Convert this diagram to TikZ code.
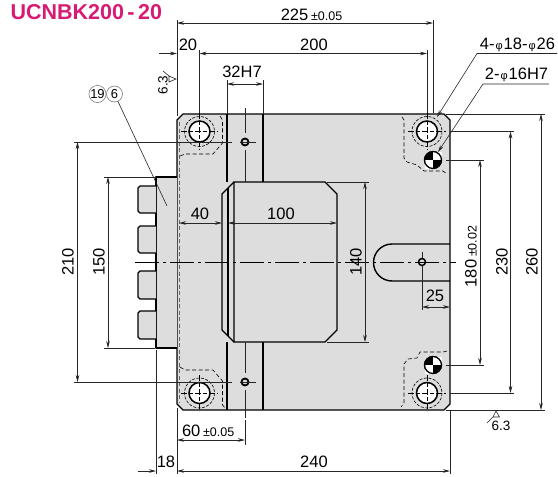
\documentclass[tikz,border=0pt]{standalone}
\usepackage{fontspec}
\setmainfont{Liberation Sans}
\usetikzlibrary{arrows.meta}
\definecolor{platefill}{HTML}{DDDDDD}
\definecolor{titlepink}{HTML}{D81B72}
\newcommand{\tolsize}{\fontsize{12.5}{12.5}\selectfont}
\newcommand{\phisize}{\fontsize{11}{11}\selectfont}
\tikzset{
  every node/.style={inner sep=0pt, outer sep=0pt, font=\fontsize{16.5}{16.5}\selectfont},
  outline/.style={line width=1.4pt, draw=black, fill=platefill, line join=round},
  edge/.style={line width=1.4pt},
  thin line/.style={line width=.6pt, draw=black!85},
  dim/.style={thin line, {Stealth[length=7pt,width=3.5pt]}-{Stealth[length=7pt,width=3.5pt]}},
  dimright/.style={thin line, -{Stealth[length=7pt,width=3.5pt]}},
  hidden/.style={line width=.6pt, dash pattern=on 4pt off 2.5pt},
  center line/.style={line width=.6pt, dash pattern=on 24pt off 4pt on 3pt off 4pt},
  cross/.style={line width=.6pt, dash pattern=on 6pt off 2pt on 4pt off 2pt},
  rough/.style={font=\fontsize{13.5}{13.5}\selectfont},
  partno/.style={circle, draw=black!60, line width=.5pt, minimum size=16pt, font=\fontsize{13}{13}\selectfont}
}
\begin{document}
\begin{tikzpicture}[x=1pt, y=-1pt]
\useasboundingbox (0,0) rectangle (558,477);
% Title
\node[anchor=west, text=titlepink, font=\fontsize{21.5}{21.5}\selectfont\bfseries] (title) at (10.5,12.5) {UCNBK200\hspace{3.5pt}-\hspace{3.5pt}20};

% Plate
\draw[outline] (183,114) -- (444,114) -- (450,120) -- (450,404) -- (444,410) -- (183,410) -- (177,404) -- (177,120) -- cycle;
% Side box and connectors
\draw[outline] (177,177) -- (156,177) -- (156,348) -- (177,348);
\draw[outline] (156,186) -- (140,186) -- (138,188) -- (138,211) -- (140,213) -- (156,213);
\draw[outline] (156,226) -- (140,226) -- (138,228) -- (138,251) -- (140,253) -- (156,253);
\draw[outline] (156,271) -- (140,271) -- (138,273) -- (138,297) -- (140,299) -- (156,299);
\draw[outline] (156,311) -- (140,311) -- (138,313) -- (138,337) -- (140,339) -- (156,339);

% Channel
\draw[edge] (227,114) -- (227,182);
\draw[edge] (263,114) -- (263,182);
\draw[edge] (227,342) -- (227,410);
\draw[edge] (263,342) -- (263,410);
% Inner block
\draw[edge] (234,182) -- (325,182) -- (337,194) -- (337,330) -- (325,342) -- (234,342) -- cycle;
\draw[edge] (234,182) -- (222,194) -- (222,330) -- (234,342);
\draw[edge] (228,188) -- (228,336);
% Slot
\draw[edge] (450,244) -- (392,244) arc[start angle=270, end angle=90, radius=18.5] -- (450,281);

% Hidden lines
\draw[hidden, draw=black!60] (179.5,122) -- (179.5,402);
\draw[hidden] (180,156) -- (185,154) -- (213,154) -- (222.5,143) -- (222.5,120) -- (220,116);
\draw[hidden] (180,367) -- (185,370) -- (213,370) -- (222.5,381) -- (222.5,405) -- (225,408);
\draw[hidden] (402,117) -- (404,120) -- (404,158) -- (407,162) -- (417,165) -- (424,171) -- (443,171) -- (447,174);
\draw[hidden] (447,351) -- (443,352) -- (420,352) -- (417,358) -- (408,359) -- (404,364) -- (404,403) -- (401,407);

% Top left hole
\draw[hidden, dash pattern=on 3pt off 1.5pt] (199.5,131.5) circle[radius=15];
\draw[line width=1.5pt, fill=white] (199.5,131.5) circle[radius=10.5];
\draw[cross] (181,131.5) -- (218,131.5);
\draw[cross] (199.5,113) -- (199.5,150);
% Top right hole
\draw[hidden, dash pattern=on 3pt off 1.5pt] (427,131.5) circle[radius=15];
\draw[line width=1.5pt, fill=white] (427,131.5) circle[radius=10.5];
\draw[cross] (408,131.5) -- (446,131.5);
\draw[cross] (427,113) -- (427,150);
% Bottom left hole
\draw[hidden, dash pattern=on 3pt off 1.5pt] (199.5,393) circle[radius=15];
\draw[line width=1.5pt, fill=white] (199.5,393) circle[radius=10.5];
\draw[cross] (181,393) -- (218,393);
\draw[cross] (199.5,375) -- (199.5,411);
% Bottom right hole
\draw[hidden, dash pattern=on 3pt off 1.5pt] (427,393) circle[radius=15];
\draw[line width=1.5pt, fill=white] (427,393) circle[radius=10.5];
\draw[cross] (408,393) -- (446,393);
\draw[cross] (427,375) -- (427,411);

% Small holes
\draw[line width=1.8pt, fill=platefill] (245,142) circle[radius=3.5];
\draw[line width=1.8pt, fill=platefill] (245,382) circle[radius=3.5];
\draw[line width=1.5pt, fill=platefill] (422,262) circle[radius=3.5];
% Dowel holes
\fill[black] (433,160) circle[radius=9];
\fill[white] (433,160) -- (441.5,160) -- (441.5,151.5) -- (433,151.5) -- cycle;
\fill[white] (433,160) -- (424.5,160) -- (424.5,168.5) -- (433,168.5) -- cycle;
\draw[line width=1.3pt] (433,160) circle[radius=8.5];
\fill[black] (433,365) circle[radius=9];
\fill[white] (433,365) -- (441.5,365) -- (441.5,356.5) -- (433,356.5) -- cycle;
\fill[white] (433,365) -- (424.5,365) -- (424.5,373.5) -- (433,373.5) -- cycle;
\draw[line width=1.3pt] (433,365) circle[radius=8.5];

% Center lines
\draw[center line] (135,262) -- (456,262);
\draw[thin line] (240,142) -- (256,142);
\draw[thin line] (240,382) -- (256,382);
\draw[thin line] (245,108) -- (245,133);
\draw[thin line] (245,150) -- (245,182);
\draw[thin line] (245,342) -- (245,373);
\draw[thin line, dash pattern=on 28pt off 2pt on 26pt] (245,390) -- (245,445);
\draw[thin line] (422,252) -- (422,258);
\draw[thin line] (422,266) -- (422,310);

% Extension lines
\draw[thin line] (177,20) -- (177,116);
\draw[thin line] (433,20) -- (433,113);
\draw[thin line] (199.5,50) -- (199.5,113);
\draw[thin line] (427,50) -- (427,113);
\draw[thin line] (227,80) -- (227,114);
\draw[thin line] (263,80) -- (263,114);
\draw[thin line] (74,142) -- (232,142);
\draw[thin line] (74,382) -- (232,382);
\draw[thin line] (104,177) -- (156,177);
\draw[thin line] (104,348) -- (155,348);
\draw[thin line] (156,350) -- (156,474);
\draw[thin line] (177,408) -- (177,474);
\draw[thin line] (450,410) -- (450,474);
\draw[thin line] (327,182) -- (369,182);
\draw[thin line] (327,342) -- (369,342);
\draw[thin line] (446,160) -- (484,160);
\draw[thin line] (446,365) -- (484,365);
\draw[thin line] (450,131.5) -- (514,131.5);
\draw[thin line] (450,393) -- (514,393);
\draw[thin line] (446,114) -- (545,114);
\draw[thin line] (446,410) -- (545,410);

% Top dimensions
\draw[dim] (177,23) -- (433,23);
\draw[dimright] (159,53.5) -- (177,53.5);
\draw[dim] (199.5,53.5) -- (427,53.5);
\draw[dim] (227,84) -- (263,84);
\node (dimtotal) at (311.5,14.5) {225\,{\tolsize ±0.05}};
\node (dimtwenty) at (188,45) {20};
\node (dimpitch) at (314,45) {200};
\node (dimbore) at (242,72) {32H7};

% Left dimensions
\draw[dim] (77.5,142) -- (77.5,382);
\draw[dim] (108,177) -- (108,348);
\node[rotate=90] (dimoutx) at (68,262) {210};
\node[rotate=90] (dimbox) at (99,262) {150};

% Inner dimensions
\draw[dim] (179,223) -- (222,223);
\draw[dim] (228,223) -- (337,223);
\node (dimforty) at (200,214) {40};
\node (dimblock) at (281,214) {100};
\draw[dim] (365,182) -- (365,342);
\node[rotate=90] (dimheight) at (356,262) {140};
\draw[dim] (422,307) -- (450,307);
\node (dimslot) at (435,295.5) {25};

% Right dimensions
\draw[dim] (480,160) -- (480,365);
\draw[dim] (510.5,131.5) -- (510.5,393);
\draw[dim] (541,114) -- (541,410);
\node[rotate=90] (dimdowel) at (471,256.5) {180\,{\tolsize ±0.02}};
\node[rotate=90] (dimholes) at (502,262) {230};
\node[rotate=90] (dimplate) at (532,262) {260};

% Bottom dimensions
\draw[dim] (177,440) -- (245,440);
\node[anchor=west] (dimsixty) at (182,430.5) {60\,{\tolsize ±0.05}};
\draw[dimright] (138,471) -- (156,471);
\draw[dim] (177,471) -- (450,471);
\node (dimeighteen) at (166,462) {18};
\node (dimwidth) at (314,462) {240};

% Leaders
\node (holelabel) at (517.5,45) {4-\hspace{1pt}{\phisize φ}\hspace{1pt}18-\hspace{1pt}{\phisize φ}\hspace{1pt}26};
\draw[dimright] (557,53.5) -- (477,53.5) -- (437,117);
\node (dowellabel) at (516.5,75) {2-\hspace{1pt}{\phisize φ}\hspace{1pt}16H7};
\draw[dimright] (549,84) -- (483,84) -- (438,152);
\node[partno] (partA) at (97.5,94) {19};
\node[partno] (partB) at (114.5,94) {6};
\draw[thin line] (partB) -- (167,206);

% Surface marks
\draw[thin line] (163,71) -- (169,76) -- (176,79) -- (169,82) -- (169,76);
\node[rotate=90, rough] (roughtop) at (163,85) {6.3};
\draw[thin line] (487,423) -- (493,417) -- (496,411) -- (499.5,417) -- (493,417);
\node[rough] (roughbottom) at (501,426) {6.3};
\end{tikzpicture}
\end{document}
